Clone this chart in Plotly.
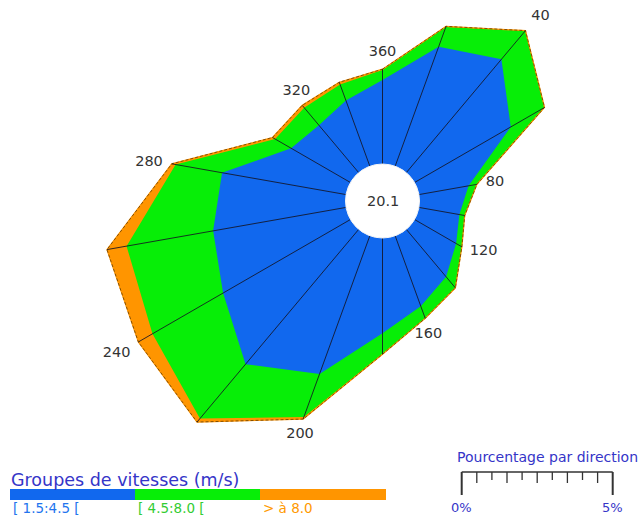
import numpy as np
import plotly.graph_objects as go

# Wind rose: frequency (%) per 20° sector, stacked by speed group
directions = list(range(0, 360, 20))
pct_low = [2.78, 4.21, 4.90, 3.68, 1.67, 1.36, 1.59, 2.05, 2.48,
           3.15, 4.87, 5.83, 4.87, 4.47, 4.17, 2.27, 2.05, 2.32]
pct_mid = [0.33, 0.70, 1.23, 1.29, 0.28, 0.18, 0.22, 0.48, 0.43,
           0.70, 1.52, 2.35, 2.70, 2.91, 1.56, 0.61, 0.76, 0.56]
pct_high = [0.03, 0.02, 0.01, 0.00, 0.00, 0.00, 0.00, 0.00, 0.00,
            0.00, 0.07, 0.15, 0.54, 0.66, 0.13, 0.10, 0.10, 0.08]
calm_pct = 20.1

speed_groups = ["[ 1.5:4.5 [", "[ 4.5:8.0 [", "> à 8.0"]
group_fill = ["#1168EE", "#07EE07", "#FF9500"]
group_text = ["#2274EE", "#33CC33", "#FF9900"]

label_dirs = [40, 80, 120, 160, 200, 240, 280, 320, 360]
label_text = ["40", "80", "120", "160", "200", "240", "280", "320", "360"]
label_anchor = ["top right", "middle right", "middle right", "bottom center",
                "bottom center", "bottom left", "middle left", "top center", "top center"]

scale_pct = [0, 5]
scale_text = ["0%", "5%"]

# Drawing constants
W, H = 641, 517
PX = 30.2          # pixels per percent
CX, CY = 382.5, 201
HOLE = 1.225       # radius of the calm disc, in percent units
FONT = "DejaVu Sans"

theta = np.radians(directions)
r_low = HOLE + np.array(pct_low)
r_mid = r_low + np.array(pct_mid)
r_high = r_mid + np.array(pct_high)


def to_xy(r, th):
    return r * np.sin(th), r * np.cos(th)


def closed(a):
    a = np.asarray(a)
    return np.append(a, a[0])


fig = go.Figure()

# stacked polygons, outermost first
for r, col in [(r_high, group_fill[2]), (r_mid, group_fill[1]), (r_low, group_fill[0])]:
    x, y = to_xy(closed(r), closed(theta))
    fig.add_trace(go.Scatter(x=x, y=y, mode="lines", fill="toself", fillcolor=col,
                             line=dict(width=0), hoverinfo="skip", showlegend=False))

# outer edge
x, y = to_xy(closed(r_high), closed(theta))
fig.add_trace(go.Scatter(x=x, y=y, mode="lines",
                         line=dict(color=group_fill[2], width=1.2),
                         hoverinfo="skip", showlegend=False))
fig.add_trace(go.Scatter(x=x, y=y, mode="lines",
                         line=dict(color="rgba(50,30,0,0.75)", width=0.8, dash="3px,2px"),
                         hoverinfo="skip", showlegend=False))

# spokes
sx, sy = [], []
for th, r in zip(theta, r_high):
    x0, y0 = to_xy(HOLE, th)
    x1, y1 = to_xy(r, th)
    sx += [x0, x1, None]
    sy += [y0, y1, None]
fig.add_trace(go.Scatter(x=sx, y=sy, mode="lines",
                         line=dict(color="rgba(20,20,35,0.85)", width=1),
                         hoverinfo="skip", showlegend=False))

# direction labels just beyond the outer edge
idx = [directions.index(d % 360) for d in label_dirs]
pad = 0.3
lx, ly = to_xy(r_high[idx] + pad, theta[idx])
fig.add_trace(go.Scatter(x=lx, y=ly, mode="text", text=label_text,
                         textposition=label_anchor,
                         textfont=dict(family=FONT, size=14.5, color="#333333"),
                         hoverinfo="skip", showlegend=False))

shapes = []
annotations = []

# calm disc
shapes.append(dict(type="circle", xref="x", yref="y", x0=-HOLE, y0=-HOLE, x1=HOLE, y1=HOLE,
                   fillcolor="white", line=dict(color="#f4f4f4", width=1), layer="above"))
annotations.append(dict(x=0, y=0, xref="x", yref="y", text=f"{calm_pct:.1f}", showarrow=False,
                        font=dict(family=FONT, size=14.5, color="#333333")))

# speed-group legend (paper coordinates)
def px_x(p):
    return p / W


def px_y(p):
    return 1 - p / H


annotations.append(dict(x=px_x(9), y=px_y(480), xref="paper", yref="paper",
                        text="Groupes de vitesses (m/s)", showarrow=False,
                        xanchor="left", yanchor="middle",
                        font=dict(family=FONT, size=17.5, color="#3535C8")))
seg_w = 125
for i, (name, fc, tc) in enumerate(zip(speed_groups, group_fill, group_text)):
    x0 = 10 + i * seg_w
    shapes.append(dict(type="rect", xref="paper", yref="paper",
                       x0=px_x(x0), x1=px_x(x0 + seg_w + (1 if i == 2 else 0)),
                       y0=px_y(500), y1=px_y(489), fillcolor=fc, line=dict(width=0)))
    annotations.append(dict(x=px_x(x0 + 1), y=px_y(508), xref="paper", yref="paper",
                            text=name, showarrow=False, xanchor="left", yanchor="middle",
                            font=dict(family=FONT, size=13.5, color=tc)))

# percentage scale bar, drawn in the same units as the rose
bar_x0 = (461.7 - CX) / PX
bar_y = (CY - 472) / PX
big_tick = 23 / PX
shapes.append(dict(type="line", xref="x", yref="y",
                   x0=bar_x0 + scale_pct[0], x1=bar_x0 + scale_pct[1], y0=bar_y, y1=bar_y,
                   line=dict(color="#333333", width=1.6)))
n_ticks = 10
for k in range(n_ticks + 1):
    xv = bar_x0 + scale_pct[0] + (scale_pct[1] - scale_pct[0]) * k / n_ticks
    if k in (0, n_ticks):
        ln, w = big_tick, 2
    else:
        ln, w = (11 / PX if k % 2 else 8 / PX), 1.3
    shapes.append(dict(type="line", xref="x", yref="y", x0=xv, x1=xv, y0=bar_y, y1=bar_y - ln,
                       line=dict(color="#333333", width=w)))
for v, t in zip(scale_pct, scale_text):
    annotations.append(dict(x=bar_x0 + v, y=(CY - 507.5) / PX, xref="x", yref="y", text=t,
                            showarrow=False, xanchor="center", yanchor="middle",
                            font=dict(family=FONT, size=13, color="#3535C8")))
annotations.append(dict(x=(455 - CX) / PX, y=(CY - 457) / PX, xref="x", yref="y",
                        text="Pourcentage par direction", showarrow=False,
                        xanchor="left", yanchor="middle",
                        font=dict(family=FONT, size=14, color="#3535C8")))

fig.update_layout(
    width=W, height=H,
    margin=dict(l=0, r=0, t=0, b=0),
    paper_bgcolor="white", plot_bgcolor="white",
    xaxis=dict(range=[-CX / PX, (W - CX) / PX], visible=False, fixedrange=True),
    yaxis=dict(range=[(CY - H) / PX, CY / PX], visible=False, fixedrange=True),
    shapes=shapes, annotations=annotations, showlegend=False,
)

fig.write_html("out.html", config={"displayModeBar": False})
